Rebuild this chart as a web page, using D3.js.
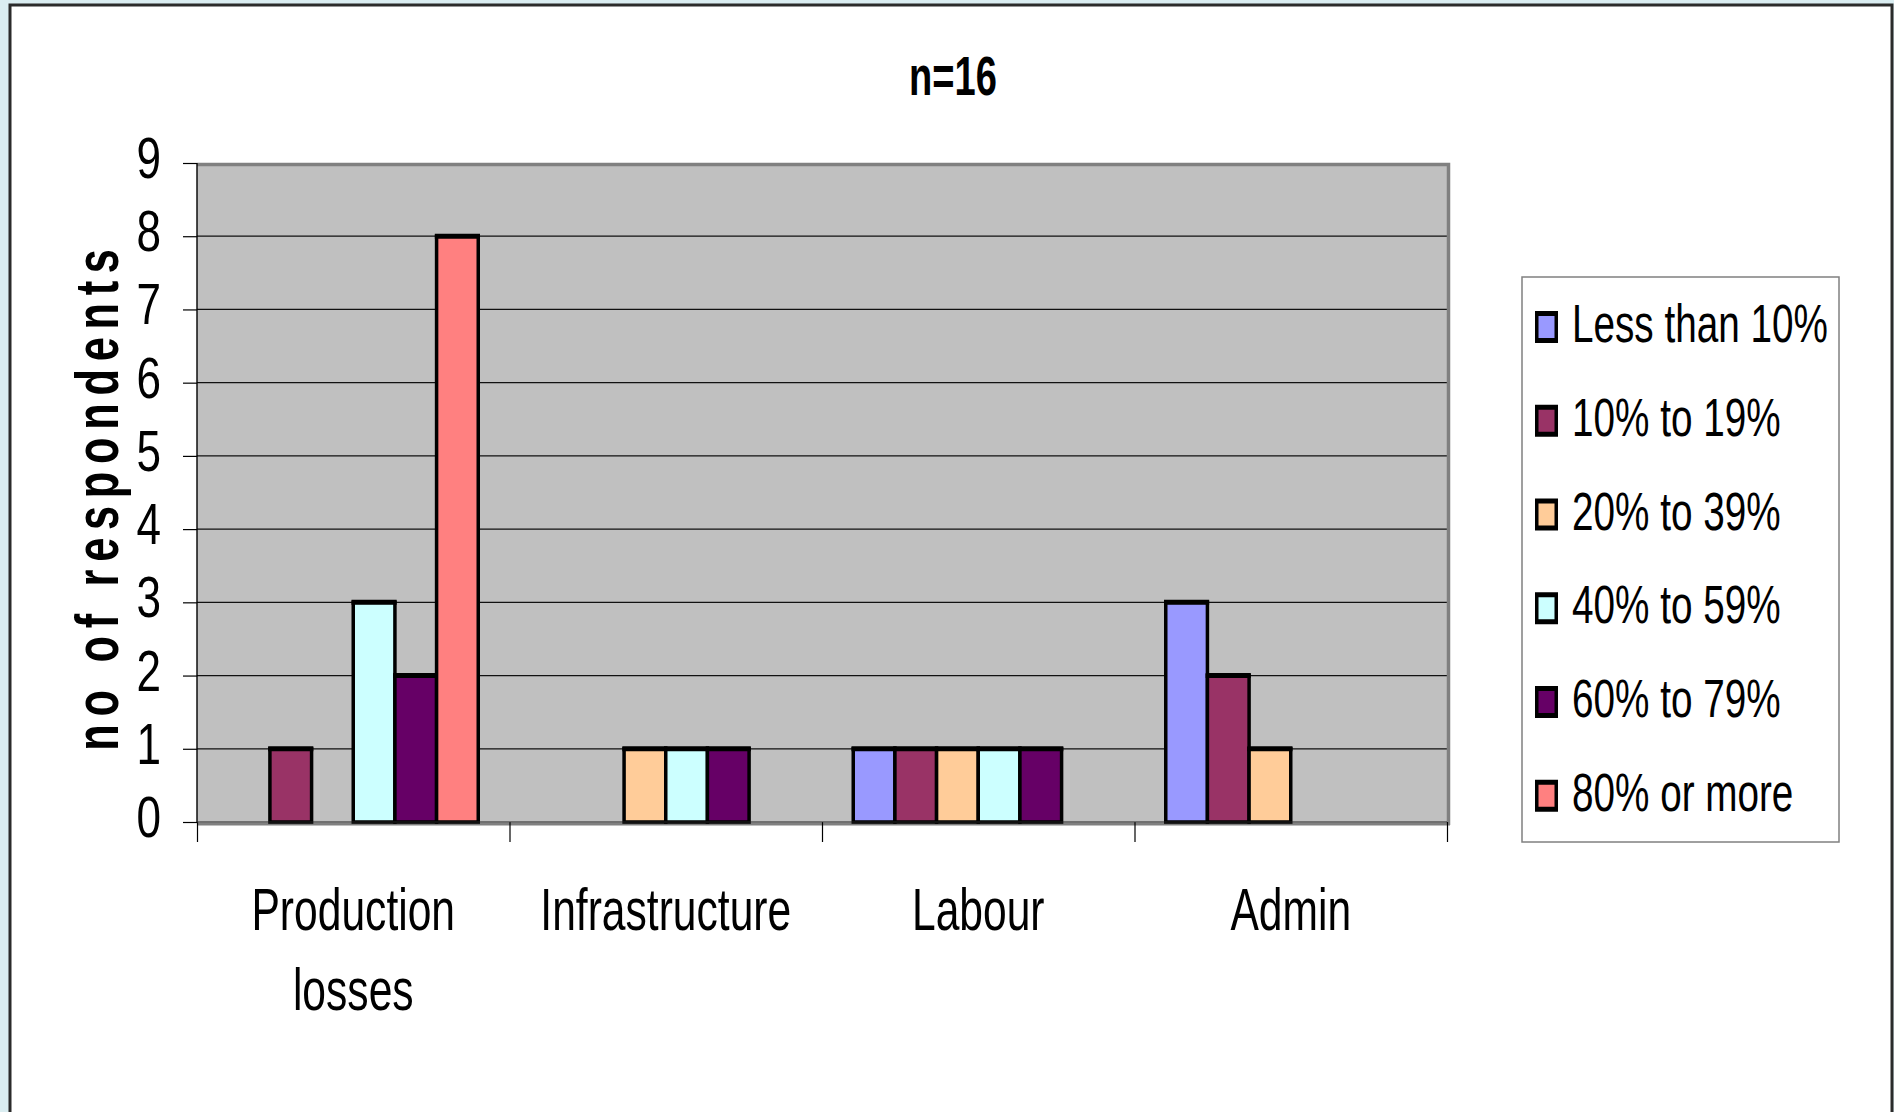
<!DOCTYPE html>
<html>
<head>
<meta charset="utf-8">
<script src="https://cdn.jsdelivr.net/npm/d3@7"></script>
<style>
  body { margin: 0; background: #daedf1; overflow: hidden; }
  text { font-family: "Liberation Sans", Arial, sans-serif; fill: #000; }
</style>
</head>
<body>
<div class="chart-container"></div>
<script>
const w = 1894,
      h = 1112;

// data
const categories = ['Production losses', 'Infrastructure', 'Labour', 'Admin'];
const seriesNames = ['Less than 10%', '10% to 19%', '20% to 39%', '40% to 59%', '60% to 79%', '80% or more'];
const lessThan10 = [0, 0, 1, 3];
const from10to19 = [1, 0, 1, 2];
const from20to39 = [0, 1, 1, 1];
const from40to59 = [3, 1, 1, 0];
const from60to79 = [2, 1, 1, 0];
const over80     = [8, 0, 0, 0];
const yTicks = [0, 1, 2, 3, 4, 5, 6, 7, 8, 9];
const colors = ['#9999ff', '#993366', '#ffcc99', '#ccffff', '#660066', '#ff8080'];

const seriesValues = [lessThan10, from10to19, from20to39, from40to59, from60to79, over80];

const plot = { left: 197, right: 1447, top: 163, bottom: 822 };

const svg = d3
  .select('.chart-container')
  .append('svg')
  .attr('width', w)
  .attr('height', h);

// outer frame
svg.append('rect')
  .attr('x', 10)
  .attr('y', 5)
  .attr('width', 1882)
  .attr('height', 1200)
  .style('fill', '#fff')
  .style('stroke', '#2b2b2b')
  .style('stroke-width', 3);

const x0 = d3.scaleBand()
  .domain(categories)
  .range([plot.left, plot.right]);

const x1 = d3.scaleBand()
  .domain(seriesNames)
  .range([0, x0.bandwidth()])
  .paddingOuter(0.75);

const yScale = d3.scaleLinear()
  .domain([0, 9])
  .range([plot.bottom, plot.top]);

// plot area
svg.append('rect')
  .attr('x', plot.left)
  .attr('y', plot.top)
  .attr('width', plot.right - plot.left)
  .attr('height', plot.bottom - plot.top)
  .style('fill', '#c0c0c0');

svg.append('g')
  .selectAll('line')
  .data(yTicks.filter(t => t > 0 && t < 9))
  .enter()
  .append('line')
  .attr('x1', plot.left)
  .attr('x2', plot.right)
  .attr('y1', d => yScale(d))
  .attr('y2', d => yScale(d))
  .style('stroke', '#111')
  .style('stroke-width', 1.2);

// gray border top / right / bottom
svg.append('path')
  .attr('d', `M${plot.left},${plot.top + 1.5}H${plot.right + 1.5}V${plot.bottom + 3}`)
  .style('fill', 'none')
  .style('stroke', '#808080')
  .style('stroke-width', 3.5);

svg.append('line')
  .attr('x1', plot.left)
  .attr('x2', plot.right + 3)
  .attr('y1', plot.bottom + 2)
  .attr('y2', plot.bottom + 2)
  .style('stroke', '#808080')
  .style('stroke-width', 3);

// bars
const groups = svg.append('g')
  .selectAll('g')
  .data(categories)
  .enter()
  .append('g')
  .attr('transform', d => `translate(${x0(d)},0)`);

const bars = groups.selectAll('g')
  .data((c, ci) => seriesNames.map((s, si) => ({ s, si, v: seriesValues[si][ci] })).filter(d => d.v > 0))
  .enter()
  .append('g');

bars.append('rect')
  .attr('x', d => x1(d.s))
  .attr('y', d => yScale(d.v))
  .attr('width', x1.bandwidth())
  .attr('height', d => yScale(0) - yScale(d.v))
  .style('fill', d => colors[d.si])
  .style('stroke', '#000')
  .style('stroke-width', 3.5);

// horizontal edges look heavier in the original
bars.append('line')
  .attr('x1', d => x1(d.s) - 1.75)
  .attr('x2', d => x1(d.s) + x1.bandwidth() + 1.75)
  .attr('y1', d => yScale(d.v))
  .attr('y2', d => yScale(d.v))
  .style('stroke', '#000')
  .style('stroke-width', 5);

// axes
const yAxis = d3.axisLeft(yScale).tickValues(yTicks).tickSize(14).tickFormat('');
svg.append('g')
  .attr('transform', `translate(${plot.left},0)`)
  .call(yAxis)
  .call(g => g.select('.domain').remove())
  .selectAll('line').style('stroke', '#000').style('stroke-width', 1.2);

const boundary = d3.scaleLinear().domain([0, categories.length]).range([plot.left, plot.right]);
const xAxis = d3.axisBottom(boundary).ticks(categories.length).tickSize(20).tickFormat('');
svg.append('g')
  .attr('transform', `translate(0,${plot.bottom})`)
  .call(xAxis)
  .call(g => g.select('.domain').remove())
  .selectAll('line').style('stroke', '#000').style('stroke-width', 1.2);

svg.append('line')
  .attr('x1', plot.left)
  .attr('x2', plot.left)
  .attr('y1', plot.top)
  .attr('y2', plot.bottom)
  .style('stroke', '#000')
  .style('stroke-width', 1.4);

svg.append('line')
  .attr('x1', plot.left)
  .attr('x2', plot.right)
  .attr('y1', plot.bottom)
  .attr('y2', plot.bottom)
  .style('stroke', '#222')
  .style('stroke-width', 1.2);

// tick labels (condensed, like Arial Narrow)
svg.append('g')
  .selectAll('text')
  .data(yTicks)
  .enter()
  .append('text')
  .attr('transform', d => `translate(161,${yScale(d) + 15}) scale(0.76,1)`)
  .style('font-size', '58px')
  .style('text-anchor', 'end')
  .text(d => d);

const catLabels = svg.append('g')
  .selectAll('text')
  .data(categories)
  .enter()
  .append('text')
  .style('font-size', '60px')
  .style('text-anchor', 'middle');

catLabels.each(function (d) {
  const lines = d === 'Production losses' ? d.split(' ') : [d];
  const cx = x0(d) + x0.bandwidth() / 2;
  d3.select(this)
    .selectAll('tspan')
    .data(lines)
    .enter()
    .append('tspan')
    .attr('x', 0)
    .attr('y', (l, i) => i * 80)
    .text(l => l);
  d3.select(this).attr('transform', `translate(${cx},930) scale(0.71,1)`);
});

// title
svg.append('text')
  .attr('transform', 'translate(953,95) scale(0.68,1)')
  .style('font-size', '56px')
  .style('font-weight', 'bold')
  .style('text-anchor', 'middle')
  .text('n=16');

// y axis title
svg.append('text')
  .attr('transform', 'translate(118,496) rotate(-90) scale(0.7,1)')
  .style('font-size', '62px')
  .style('font-weight', 'bold')
  .style('letter-spacing', '11px')
  .style('text-anchor', 'middle')
  .text('no of respondents');

// legend
const legendY = d3.scaleLinear().domain([0, seriesNames.length - 1]).range([311, 311 + 5 * 93.75]);

svg.append('rect')
  .attr('x', 1522)
  .attr('y', 277)
  .attr('width', 317)
  .attr('height', 565)
  .style('fill', '#fff')
  .style('stroke', '#808080')
  .style('stroke-width', 1.5);

const legend = svg.append('g')
  .selectAll('g')
  .data(seriesNames)
  .enter()
  .append('g')
  .attr('transform', (d, i) => `translate(1535,${legendY(i)})`);

legend.append('rect')
  .attr('x', 1.75)
  .attr('y', 2.5)
  .attr('width', 19.5)
  .attr('height', 27)
  .style('fill', (d, i) => colors[i])
  .style('stroke', '#000')
  .style('stroke-width', 3.5);

legend.append('path')
  .attr('d', 'M0,2.5H23M0,29.5H23')
  .style('stroke', '#000')
  .style('stroke-width', 5);

legend.append('text')
  .attr('transform', 'translate(37,31) scale(0.73,1)')
  .style('font-size', '53px')
  .text(d => d);
</script>
</body>
</html>
